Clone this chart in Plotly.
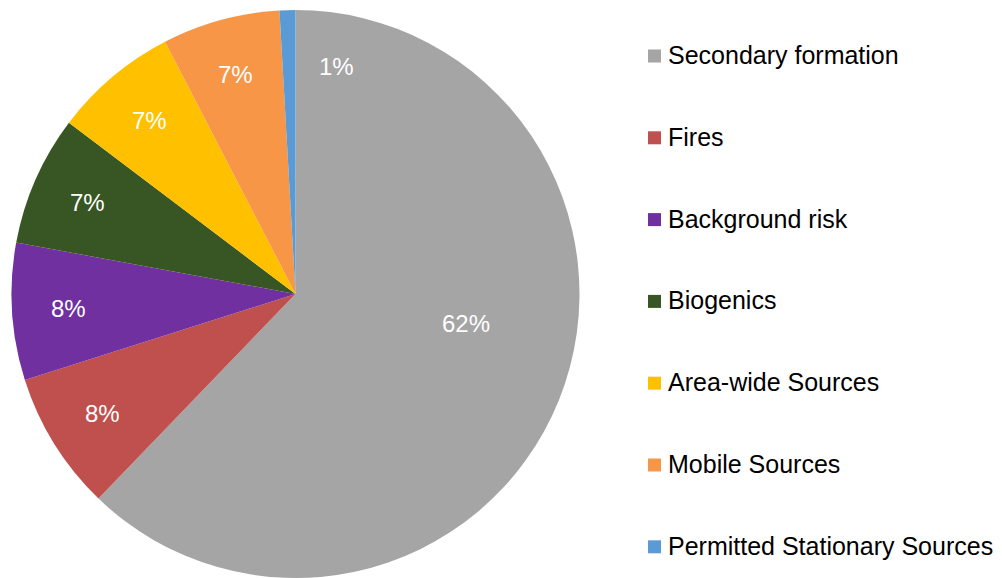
import math
import plotly.graph_objects as go

labels = ["Secondary formation", "Fires", "Background risk", "Biogenics",
          "Area-wide Sources", "Mobile Sources", "Permitted Stationary Sources"]
values = [62.2, 7.9, 7.8, 7.4, 7.1, 6.7, 0.9]
colors = ["#A5A5A5", "#C0504D", "#7030A0", "#375623", "#FFC000", "#F79646", "#5B9BD5"]

# The page body has a default 8px margin; size the figure to fill the rest
OFF = 8
W, H = 1002 - OFF, 578 - OFF
FONT = "Liberation Sans, Arial, sans-serif"


def px(x):
    return (x - OFF) / W


def py(y):
    return 1 - (y - OFF) / H


PIE_L, PIE_R, PIE_T = 11.5, 579.5, 10
fig = go.Figure()
fig.add_trace(go.Pie(
    labels=labels, values=values, sort=False, direction="clockwise", rotation=0,
    marker=dict(colors=colors, line=dict(width=0)),
    textinfo="none",
    domain=dict(x=[px(PIE_L), px(PIE_R)], y=[0, py(PIE_T)]),
    showlegend=False, hoverinfo="label+percent",
))

# Data labels (Excel-like placement: along slice bisector near the outer edge)
total = sum(values)
cx = (PIE_L + PIE_R) / 2
r = (PIE_R - PIE_L) / 2
cy = PIE_T + r
cum = 0.0
for i, v in enumerate(values):
    frac = v / total
    if i == 0:
        x, y = 466, 323          # best-fit spot for the large slice
    elif i == len(values) - 1:
        x, y = 336, 67           # tiny slice: label sits in neighbouring slice
    else:
        ang = 2 * math.pi * (cum + frac / 2)
        x = cx + 0.8 * r * math.sin(ang)
        y = cy - 0.8 * r * math.cos(ang)
    cum += frac
    fig.add_annotation(x=px(x), y=py(y), xref="paper", yref="paper",
                       text=f"{round(frac * 100)}%", showarrow=False,
                       xanchor="center", yanchor="middle",
                       font=dict(color="white", size=24, family=FONT))

# Manual legend with Excel-like spacing
y0, step = 56, 81.8
for i, (lab, col) in enumerate(zip(labels, colors)):
    yc = y0 + i * step
    fig.add_shape(type="rect", xref="paper", yref="paper",
                  x0=px(648), x1=px(661), y0=py(yc - 6.5), y1=py(yc + 6.5),
                  fillcolor=col, line=dict(width=0))
    fig.add_annotation(x=px(665.5), y=py(yc - 1), xref="paper", yref="paper",
                       text=lab, showarrow=False, xanchor="left", yanchor="middle",
                       font=dict(color="#000000", size=25, family=FONT))

fig.update_layout(width=W, height=H, margin=dict(l=0, r=0, t=0, b=0),
                  paper_bgcolor="white", plot_bgcolor="white")
fig.write_html("out.html")
